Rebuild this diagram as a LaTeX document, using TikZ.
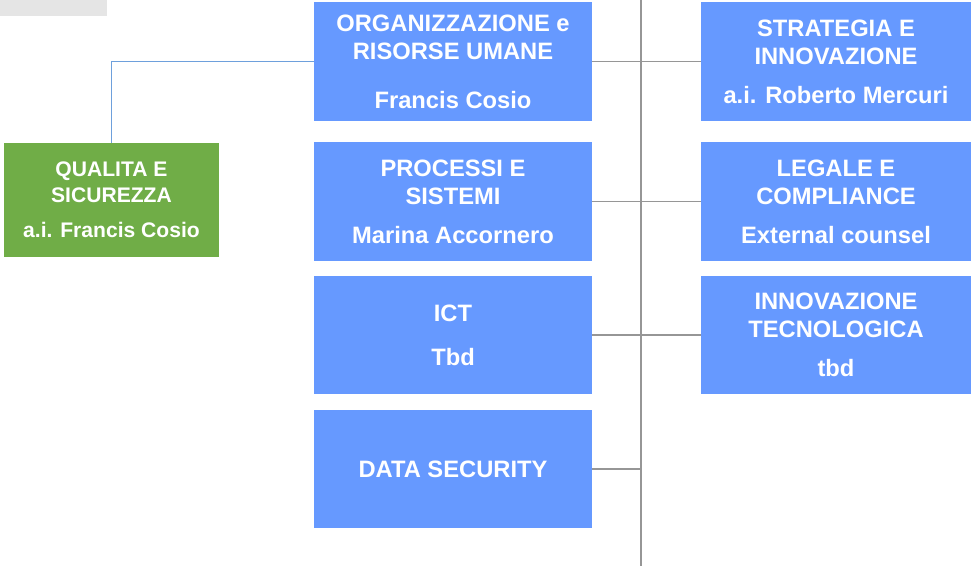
\documentclass[tikz,border=0pt]{standalone}
\usepackage{fontspec}
\setmainfont{Liberation Sans}
\usepackage{tikz}
\usepackage{xcolor}
\usetikzlibrary{calc, positioning}

\definecolor{unitblue}{RGB}{102,153,255}
\definecolor{unitgreen}{RGB}{112,173,71}
\definecolor{tabgray}{RGB}{229,229,229}
\definecolor{linkgray}{RGB}{150,150,150}
\definecolor{linkblue}{RGB}{110,160,220}

\tikzset{
  bluebox/.style={fill=unitblue, text=white, align=center, inner sep=0pt,
    font=\fontsize{13.5}{16}\selectfont\bfseries,
    minimum width=5.56cm, minimum height=2.38cm},
  greenbox/.style={fill=unitgreen, text=white, align=center, inner sep=0pt,
    font=\fontsize{12}{14.8}\selectfont\bfseries,
    minimum width=4.3cm, minimum height=2.28cm},
  link/.style={line width=0.8pt}
}

\begin{document}
\begin{tikzpicture}[x=0.02cm, y=-0.02cm]
                        \useasboundingbox (0, 0) rectangle (971, 566);
                        \fill[tabgray] (0, 0) rectangle (107, 16);
                        \coordinate (top) at (641, 0);
                        \coordinate (bot) at (641, 566);
                        \node[bluebox] (org) at (453, 61.5) {ORGANIZZAZIONE e\\RISORSE UMANE\\[12pt]Francis Cosio};
                        \node[bluebox] (proc) at (453, 201.5) {PROCESSI E\\SISTEMI\\[6pt]Marina Accornero};
                        \node[bluebox] (ict) at (453, 335) {ICT\\[9pt]Tbd};
                        \node[bluebox] (sec) at (453, 469) {DATA SECURITY};
                        \node[bluebox, minimum width=5.4cm] (strat) at (836, 61.5) {STRATEGIA E\\INNOVAZIONE\\[6pt]a.i. Roberto Mercuri};
                        \node[bluebox, minimum width=5.4cm] (legal) at (836, 201.5) {LEGALE E\\COMPLIANCE\\[6pt]External counsel};
                        \node[bluebox, minimum width=5.4cm, minimum height=2.36cm] (innov) at (836, 335) {INNOVAZIONE\\TECNOLOGICA\\[6pt]tbd};
                        \node[greenbox] (qual) at (111.5, 200) {QUALITA E\\SICUREZZA\\[5pt]a.i. Francis Cosio};
                        \draw[link, linkgray]
                        (top) -- (bot)
                        (org) -- (strat)
                        (proc) -- (legal)
                        (ict) -- (innov)
                        (sec) -- (sec -| top);
                        \draw[link, linkblue] (qual) |- (org);
                    \end{tikzpicture}
\end{document}
